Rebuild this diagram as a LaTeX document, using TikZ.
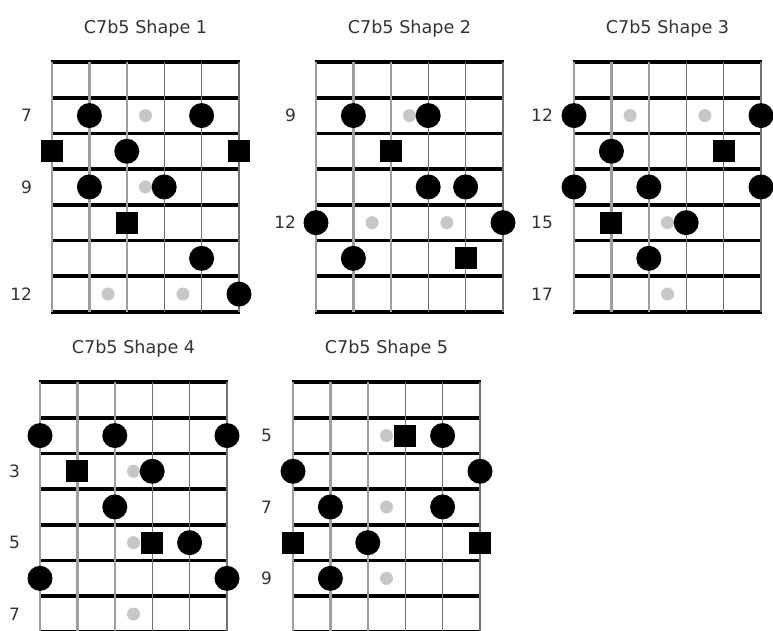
\documentclass[tikz,border=0pt]{standalone}
\usepackage{fontspec}
\setmainfont{DejaVu Sans}
\tikzset{
  fretline/.style={line width=3.8pt, black},
  thickstr/.style={line width=2.6pt, black!38},
  thinstr/.style={line width=1.4pt, black!55},
  note/.style={circle, fill=black, minimum size=25pt, inner sep=0pt},
  rootsq/.style={rectangle, fill=black, minimum size=22pt, inner sep=0pt},
  inlay/.style={circle, fill=black!22, minimum size=13pt, inner sep=0pt},
  ttl/.style={font=\fontsize{17.6}{17.6}\selectfont, text=black!80, anchor=base, inner sep=0pt},
  fnum/.style={font=\fontsize{17}{17}\selectfont, text=black!80, anchor=east, inner sep=0pt},
  board/.style={x=37.4pt, y=-35.7pt}
}
\newcommand\fretgrid{%
  \foreach \j in {0,...,7} {\draw[fretline] (-0.03,\j) -- (5.03,\j);}
  \foreach \i in {0,1,2} {\draw[thickstr] (\i,0) -- (\i,7);}
  \foreach \i in {3,4,5} {\draw[thinstr] (\i,0) -- (\i,7);}
}
\begin{document}
\begin{tikzpicture}[x=1pt, y=-1pt]
\useasboundingbox[fill=white] (0,0) rectangle (773,630);

% ---------- Shape 1 ----------
\begin{scope}[shift={(52,62)}, board]
  \fretgrid
  \node[ttl] (t1) at (2.5,-0.81) {C7b5 Shape 1};
  \node[fnum] (a1) at (-0.53,1.5) {7};
  \node[fnum] (a2) at (-0.53,3.5) {9};
  \node[fnum] (a3) at (-0.53,6.5) {12};
  \node[inlay] (ai1) at (2.5,1.5) {};
  \node[inlay] (ai2) at (2.5,3.5) {};
  \node[inlay] (ai3) at (1.5,6.5) {};
  \node[inlay] (ai4) at (3.5,6.5) {};
  \node[note] (an1) at (1,1.5) {};
  \node[note] (an2) at (4,1.5) {};
  \node[rootsq] (ar1) at (0,2.5) {};
  \node[note] (an3) at (2,2.5) {};
  \node[rootsq] (ar2) at (5,2.5) {};
  \node[note] (an4) at (1,3.5) {};
  \node[note] (an5) at (3,3.5) {};
  \node[rootsq] (ar3) at (2,4.5) {};
  \node[note] (an6) at (4,5.5) {};
  \node[note] (an7) at (5,6.5) {};
\end{scope}

% ---------- Shape 2 ----------
\begin{scope}[shift={(316,62)}, board]
  \fretgrid
  \node[ttl] (t2) at (2.5,-0.81) {C7b5 Shape 2};
  \node[fnum] (b1) at (-0.53,1.5) {9};
  \node[fnum] (b2) at (-0.53,4.5) {12};
  \node[inlay] (bi1) at (2.5,1.5) {};
  \node[inlay] (bi2) at (1.5,4.5) {};
  \node[inlay] (bi3) at (3.5,4.5) {};
  \node[note] (bn1) at (1,1.5) {};
  \node[note] (bn2) at (3,1.5) {};
  \node[rootsq] (br1) at (2,2.5) {};
  \node[note] (bn3) at (3,3.5) {};
  \node[note] (bn4) at (4,3.5) {};
  \node[note] (bn5) at (0,4.5) {};
  \node[note] (bn6) at (5,4.5) {};
  \node[note] (bn7) at (1,5.5) {};
  \node[rootsq] (br2) at (4,5.5) {};
\end{scope}

% ---------- Shape 3 ----------
\begin{scope}[shift={(574,62)}, board]
  \fretgrid
  \node[ttl] (t3) at (2.5,-0.81) {C7b5 Shape 3};
  \node[fnum] (c1) at (-0.56,1.5) {12};
  \node[fnum] (c2) at (-0.56,4.5) {15};
  \node[fnum] (c3) at (-0.56,6.5) {17};
  \node[inlay] (ci1) at (1.5,1.5) {};
  \node[inlay] (ci2) at (3.5,1.5) {};
  \node[inlay] (ci3) at (2.5,4.5) {};
  \node[inlay] (ci4) at (2.5,6.5) {};
  \node[note] (cn1) at (0,1.5) {};
  \node[note] (cn2) at (5,1.5) {};
  \node[note] (cn3) at (1,2.5) {};
  \node[rootsq] (cr1) at (4,2.5) {};
  \node[note] (cn4) at (0,3.5) {};
  \node[note] (cn5) at (2,3.5) {};
  \node[note] (cn6) at (5,3.5) {};
  \node[rootsq] (cr2) at (1,4.5) {};
  \node[note] (cn7) at (3,4.5) {};
  \node[note] (cn8) at (2,5.5) {};
\end{scope}

% ---------- Shape 4 ----------
\begin{scope}[shift={(40,382)}, board]
  \fretgrid
  \node[ttl] (t4) at (2.5,-0.81) {C7b5 Shape 4};
  \node[fnum] (d1) at (-0.53,2.5) {3};
  \node[fnum] (d2) at (-0.53,4.5) {5};
  \node[fnum] (d3) at (-0.53,6.5) {7};
  \node[inlay] (di1) at (2.5,2.5) {};
  \node[inlay] (di2) at (2.5,4.5) {};
  \node[inlay] (di3) at (2.5,6.5) {};
  \node[note] (dn1) at (0,1.5) {};
  \node[note] (dn2) at (2,1.5) {};
  \node[note] (dn3) at (5,1.5) {};
  \node[rootsq] (dr1) at (1,2.5) {};
  \node[note] (dn4) at (3,2.5) {};
  \node[note] (dn5) at (2,3.5) {};
  \node[rootsq] (dr2) at (3,4.5) {};
  \node[note] (dn6) at (4,4.5) {};
  \node[note] (dn7) at (0,5.5) {};
  \node[note] (dn8) at (5,5.5) {};
\end{scope}

% ---------- Shape 5 ----------
\begin{scope}[shift={(293,382)}, board]
  \fretgrid
  \node[ttl] (t5) at (2.5,-0.81) {C7b5 Shape 5};
  \node[fnum] (e1) at (-0.56,1.5) {5};
  \node[fnum] (e2) at (-0.56,3.5) {7};
  \node[fnum] (e3) at (-0.56,5.5) {9};
  \node[inlay] (ei1) at (2.5,1.5) {};
  \node[inlay] (ei2) at (2.5,3.5) {};
  \node[inlay] (ei3) at (2.5,5.5) {};
  \node[rootsq] (er1) at (3,1.5) {};
  \node[note] (en1) at (4,1.5) {};
  \node[note] (en2) at (0,2.5) {};
  \node[note] (en3) at (5,2.5) {};
  \node[note] (en4) at (1,3.5) {};
  \node[note] (en5) at (4,3.5) {};
  \node[rootsq] (er2) at (0,4.5) {};
  \node[note] (en6) at (2,4.5) {};
  \node[rootsq] (er3) at (5,4.5) {};
  \node[note] (en7) at (1,5.5) {};
\end{scope}
\end{tikzpicture}
\end{document}
